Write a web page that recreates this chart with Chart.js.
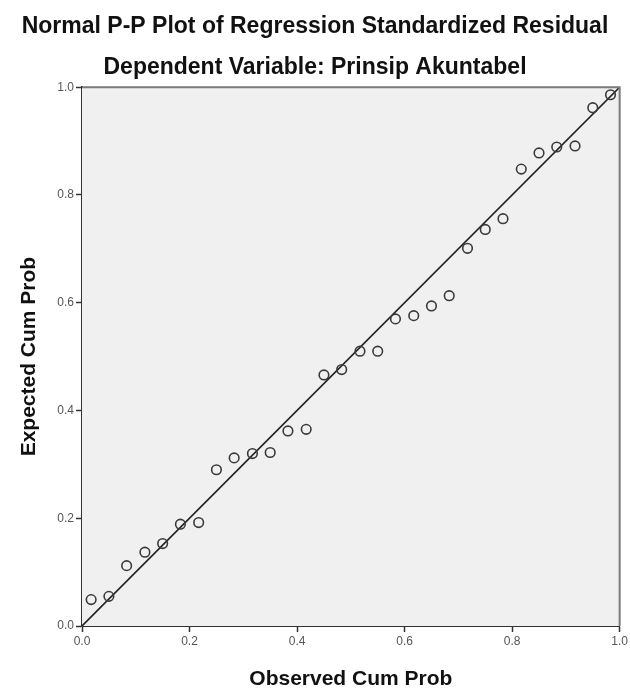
<!DOCTYPE html>
<html>
<head>
<meta charset="utf-8">
<script src="https://cdn.jsdelivr.net/npm/chart.js@4/dist/chart.umd.min.js"></script>
<style>
  html, body { margin: 0; padding: 0; background: #ffffff; }
  #wrap { width: 630px; height: 688px; position: relative; }
</style>
</head>
<body>
<div id="wrap"><canvas id="c" width="630" height="688"></canvas></div>
<script>
// ---- Data ----
const observedCumProb = [
  0.017, 0.050, 0.083, 0.117, 0.150, 0.183, 0.217, 0.250, 0.283, 0.317,
  0.350, 0.383, 0.417, 0.450, 0.483, 0.517, 0.550, 0.583, 0.617, 0.650,
  0.683, 0.717, 0.750, 0.783, 0.817, 0.850, 0.883, 0.917, 0.950, 0.983
];
const expectedCumProb = [
  0.049, 0.055, 0.112, 0.137, 0.153, 0.189, 0.192, 0.290, 0.312, 0.320,
  0.322, 0.362, 0.365, 0.466, 0.476, 0.510, 0.510, 0.570, 0.576, 0.594,
  0.613, 0.701, 0.736, 0.756, 0.848, 0.878, 0.889, 0.891, 0.962, 0.986
];
const referenceLineX = [0, 1];
const referenceLineY = [0, 1];
const tickValues = [0.0, 0.2, 0.4, 0.6, 0.8, 1.0];

const titleText = 'Normal P-P Plot of Regression Standardized Residual';
const subtitleText = 'Dependent Variable: Prinsip Akuntabel';
const xTitle = 'Observed Cum Prob';
const yTitle = 'Expected Cum Prob';

const FONT = "'Liberation Sans', Arial, sans-serif";

const framePlugin = {
  id: 'frame',
  beforeDatasetsDraw(chart) {
    const a = chart.chartArea, ctx = chart.ctx;
    ctx.save();
    ctx.fillStyle = '#f0f0f0';
    ctx.fillRect(a.left, a.top, a.right - a.left, a.bottom - a.top);
    ctx.restore();
  },
  afterDatasetsDraw(chart) {
    const a = chart.chartArea, ctx = chart.ctx;
    ctx.save();
    ctx.strokeStyle = '#7a7a7a';
    ctx.lineWidth = 2;
    ctx.beginPath();
    ctx.moveTo(a.left, a.top);
    ctx.lineTo(a.right, a.top);
    ctx.lineTo(a.right, a.bottom);
    ctx.stroke();
    ctx.restore();
  }
};

const ctx = document.getElementById('c').getContext('2d');
new Chart(ctx, {
  type: 'scatter',
  data: {
    datasets: [
      {
        type: 'line',
        data: referenceLineX.map((x, i) => ({ x: x, y: referenceLineY[i] })),
        borderColor: '#222222',
        borderWidth: 1.6,
        pointRadius: 0,
        fill: false,
        order: 2
      },
      {
        data: observedCumProb.map((x, i) => ({ x: x, y: expectedCumProb[i] })),
        pointRadius: 4.8,
        pointBorderWidth: 1.6,
        pointBorderColor: '#3a3a3a',
        pointBackgroundColor: 'rgba(0,0,0,0)',
        order: 1
      }
    ]
  },
  options: {
    responsive: false,
    animation: false,
    devicePixelRatio: 1,
    layout: { padding: { left: 0, right: 0, top: 0, bottom: 0 } },
    plugins: {
      legend: { display: false },
      tooltip: { enabled: false },
      title: {
        display: true,
        text: titleText,
        color: '#111111',
        font: { family: FONT, size: 23, weight: 'bold' },
        padding: { top: 13, bottom: 13 }
      },
      subtitle: {
        display: true,
        text: subtitleText,
        color: '#111111',
        font: { family: FONT, size: 23, weight: 'bold' },
        padding: { top: 0, bottom: 6 }
      }
    },
    scales: {
      x: {
        type: 'linear',
        min: 0, max: 1,
        afterBuildTicks(scale) { scale.ticks = tickValues.map(v => ({ value: v })); },
        afterFit(scale) { scale.height = 62; },
        ticks: {
          color: '#555555',
          font: { family: FONT, size: 12 },
          padding: 2,
          maxRotation: 0,
          callback: v => v.toFixed(1)
        },
        grid: { drawOnChartArea: false, tickLength: 6, tickColor: '#333333', tickWidth: 1.5 },
        border: { display: true, color: '#333333', width: 2 },
        title: {
          display: true,
          text: xTitle,
          color: '#111111',
          font: { family: FONT, size: 21, weight: 'bold' },
          padding: { top: 16, bottom: -4 }
        }
      },
      y: {
        type: 'linear',
        min: 0, max: 1,
        afterBuildTicks(scale) { scale.ticks = tickValues.map(v => ({ value: v })); },
        afterFit(scale) { scale.width = 82; },
        ticks: {
          color: '#555555',
          font: { family: FONT, size: 12 },
          padding: 2,
          callback: v => v.toFixed(1)
        },
        grid: { drawOnChartArea: false, tickLength: 6, tickColor: '#333333', tickWidth: 1.5 },
        border: { display: true, color: '#333333', width: 2 },
        title: {
          display: true,
          text: yTitle,
          color: '#111111',
          font: { family: FONT, size: 21, weight: 'bold' },
          padding: { top: 17, bottom: 2 }
        }
      }
    }
  },
  plugins: [framePlugin]
});
</script>
</body>
</html>
